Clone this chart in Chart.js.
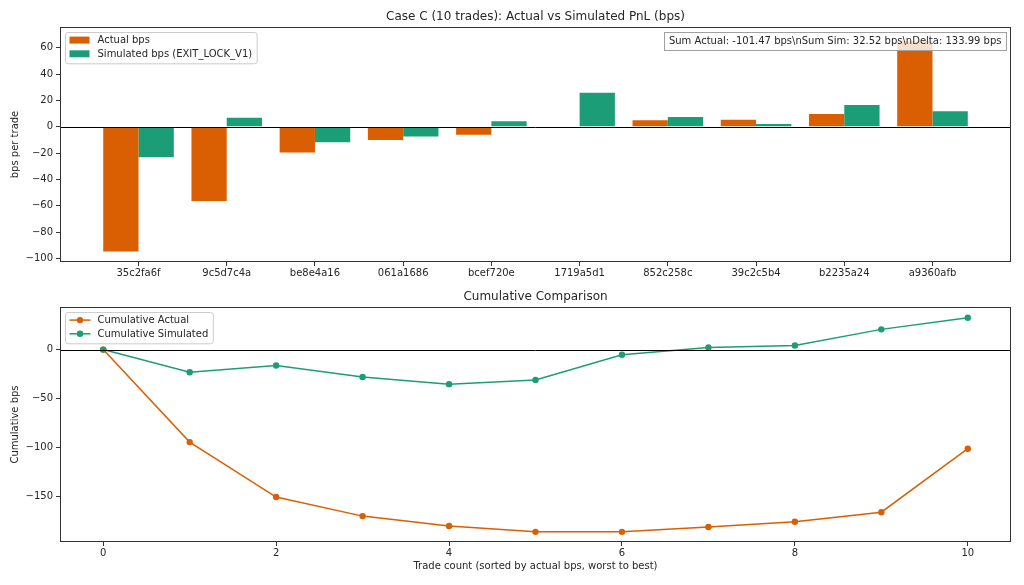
<!DOCTYPE html>
<html><head><meta charset="utf-8">
<script src="https://cdn.jsdelivr.net/npm/chart.js@4.4.1/dist/chart.umd.min.js"></script>
<style>
html,body{margin:0;padding:0;background:#fff;width:1024px;height:585px;overflow:hidden}
.box{position:absolute;left:0;width:1024px}
#w1{top:0;height:290px}
#w2{top:290px;height:295px}
</style></head><body>
<div class="box" id="w1"><canvas id="c1"></canvas></div>
<div class="box" id="w2"><canvas id="c2"></canvas></div>
<script>
// ---- data ----
const tradeIds = ['35c2fa6f','9c5d7c4a','be8e4a16','061a1686','bcef720e','1719a5d1','852c258c','39c2c5b4','b2235a24','a9360afb'];
const actualBps = [-94.7,-56.3,-19.5,-10.1,-6.0,0,5.0,5.3,9.8,65.03];
const simulatedBps = [-23.2,6.9,-11.7,-7.4,4.3,25.8,7.4,2.1,16.5,11.82];
const tradeCount = [0,1,2,3,4,5,6,7,8,9,10];
const cumActual = [0,-94.7,-151.0,-170.5,-180.6,-186.6,-186.6,-181.6,-176.3,-166.5,-101.47];
const cumSimulated = [0,-23.2,-16.3,-28.0,-35.4,-31.1,-5.3,2.1,4.2,20.7,32.52];
const barYTicks = [-100,-80,-60,-40,-20,0,20,40,60];
const cumYTicks = [-150,-100,-50,0];
const cumXTicks = [0,2,4,6,8,10];
const summaryText = 'Sum Actual: -101.47 bps\\nSum Sim: 32.52 bps\\nDelta: 133.99 bps';

const FONT = 'DejaVu Sans';
const TXT = '#262626';
const ORANGE = '#d95f02';
const GREEN = '#1b9e77';
const fmt = v => v < 0 ? '\u2212' + Math.abs(v) : String(v);

function rrect(ctx, x, y, w, h, r) {
  ctx.beginPath();
  ctx.moveTo(x + r, y);
  ctx.lineTo(x + w - r, y); ctx.arcTo(x + w, y, x + w, y + r, r);
  ctx.lineTo(x + w, y + h - r); ctx.arcTo(x + w, y + h, x + w - r, y + h, r);
  ctx.lineTo(x + r, y + h); ctx.arcTo(x, y + h, x, y + h - r, r);
  ctx.lineTo(x, y + r); ctx.arcTo(x, y, x + r, y, r);
  ctx.closePath();
}

const deco = {
  id: 'deco',
  afterDatasetsDraw(chart, args, o) {
    const {ctx, chartArea: a, scales} = chart;
    const y0 = Math.round(scales.y.getPixelForValue(0)) + 0.5;
    ctx.save();
    ctx.strokeStyle = '#000'; ctx.lineWidth = 1;
    ctx.beginPath(); ctx.moveTo(a.left, y0); ctx.lineTo(a.right, y0); ctx.stroke();
    ctx.restore();
  },
  afterDraw(chart, args, o) {
    const {ctx, chartArea: a} = chart;
    ctx.save();
    // frame
    ctx.strokeStyle = '#333'; ctx.lineWidth = 1;
    const L = Math.round(a.left) + 0.5, T = Math.round(a.top) + 0.5;
    const R = Math.round(a.right) - 0.5, B = Math.round(a.bottom) - 0.5;
    ctx.strokeRect(L, T, R - L, B - T);
    // title
    ctx.fillStyle = TXT;
    ctx.font = `12px "${FONT}"`;
    ctx.textAlign = 'center'; ctx.textBaseline = 'middle';
    ctx.fillText(o.title, (a.left + a.right) / 2, a.top - 10.5);
    // legend
    ctx.font = `10px "${FONT}"`;
    ctx.textAlign = 'left';
    const ds = chart.data.datasets;
    const tw = Math.max(...ds.map(d => ctx.measureText(d.label).width));
    const lx = a.left + 5.5, ly = a.top + 5.5;
    const lw = 32 + tw + 5, lh = 7.6 + 13.7 * (ds.length - 1) + 10;
    rrect(ctx, lx, ly, lw, lh, 2.5);
    ctx.fillStyle = 'rgba(255,255,255,0.8)'; ctx.fill();
    ctx.strokeStyle = '#cccccc'; ctx.lineWidth = 1; ctx.stroke();
    ds.forEach((d, i) => {
      const cy = ly + 7.6 + 13.7 * i;
      const col = d.borderColor && o.legend === 'line' ? d.borderColor : d.backgroundColor;
      if (o.legend === 'patch') {
        ctx.fillStyle = col;
        ctx.fillRect(lx + 4, cy - 3.5, 20, 7);
      } else {
        ctx.strokeStyle = col; ctx.lineWidth = 1.5;
        ctx.beginPath(); ctx.moveTo(lx + 4, cy); ctx.lineTo(lx + 25, cy); ctx.stroke();
        ctx.fillStyle = col;
        ctx.beginPath(); ctx.arc(lx + 14.5, cy, 3.2, 0, Math.PI * 2); ctx.fill();
      }
      ctx.fillStyle = TXT;
      ctx.fillText(d.label, lx + 32, cy + 0.5);
    });
    // note box
    if (o.note) {
      const nw = ctx.measureText(o.note).width;
      const bx = a.right - 5 - (nw + 9), by = a.top + 5.3, bh = 17.7;
      ctx.fillStyle = 'rgba(255,255,255,0.8)';
      ctx.fillRect(bx, by, nw + 9, bh);
      ctx.strokeStyle = '#a0a0a0'; ctx.lineWidth = 1;
      ctx.strokeRect(Math.round(bx) + 0.5, Math.round(by) + 0.5, Math.round(nw + 9), Math.round(bh));
      ctx.fillStyle = TXT;
      ctx.fillText(o.note, bx + 4.5, by + bh / 2 + 0.5);
    }
    ctx.restore();
  }
};

const tickFont = {family: FONT, size: 10};

new Chart(document.getElementById('c1'), {
  type: 'bar',
  data: {
    datasets: [
      {label: 'Actual bps', data: tradeIds.map((id, i) => ({x: i, y: actualBps[i]})),
       backgroundColor: ORANGE, borderWidth: 0, categoryPercentage: 0.8, barPercentage: 1.0},
      {label: 'Simulated bps (EXIT_LOCK_V1)', data: tradeIds.map((id, i) => ({x: i, y: simulatedBps[i]})),
       backgroundColor: GREEN, borderWidth: 0, categoryPercentage: 0.8, barPercentage: 1.0}
    ]
  },
  options: {
    responsive: true, maintainAspectRatio: false, animation: false,
    layout: {padding: {top: 27, right: 13, left: 0, bottom: 0}},
    plugins: {
      legend: {display: false}, tooltip: {enabled: false},
      deco: {title: 'Case C (10 trades): Actual vs Simulated PnL (bps)', legend: 'patch', note: summaryText}
    },
    scales: {
      x: {
        type: 'linear', min: -0.89, max: 9.89, offset: false,
        afterBuildTicks: s => { s.ticks = tradeIds.map((_, i) => ({value: i})); },
        afterFit: s => { s.height = 28; },
        ticks: {callback: v => tradeIds[v], font: tickFont, color: TXT, padding: 1.3, maxRotation: 0, autoSkip: false},
        grid: {drawOnChartArea: false, offset: false, tickLength: 4, tickColor: '#333'},
        border: {display: false}
      },
      y: {
        min: -102.7, max: 75.8,
        afterBuildTicks: s => { s.ticks = barYTicks.map(v => ({value: v})); },
        afterFit: s => { s.width = 60; },
        ticks: {callback: fmt, font: tickFont, color: TXT, padding: 3},
        grid: {drawOnChartArea: false, tickLength: 4, tickColor: '#333'},
        border: {display: false},
        title: {display: true, text: 'bps per trade', font: tickFont, color: TXT, padding: {top: 9, bottom: 0}}
      }
    }
  },
  plugins: [deco]
});

new Chart(document.getElementById('c2'), {
  type: 'line',
  data: {
    datasets: [
      {label: 'Cumulative Actual', data: tradeCount.map((t, i) => ({x: t, y: cumActual[i]})),
       borderColor: ORANGE, backgroundColor: ORANGE, pointBackgroundColor: ORANGE, borderWidth: 1.5,
       pointRadius: 3.2, pointBorderWidth: 0, tension: 0, order: 1},
      {label: 'Cumulative Simulated', data: tradeCount.map((t, i) => ({x: t, y: cumSimulated[i]})),
       borderColor: GREEN, backgroundColor: GREEN, pointBackgroundColor: GREEN, borderWidth: 1.5,
       pointRadius: 3.2, pointBorderWidth: 0, tension: 0, order: 0}
    ]
  },
  options: {
    responsive: true, maintainAspectRatio: false, animation: false,
    layout: {padding: {top: 17, right: 13, left: 0, bottom: 0}},
    plugins: {
      legend: {display: false}, tooltip: {enabled: false},
      deco: {title: 'Cumulative Comparison', legend: 'line'}
    },
    scales: {
      x: {
        type: 'linear', min: -0.5, max: 10.5,
        afterBuildTicks: s => { s.ticks = cumXTicks.map(v => ({value: v})); },
        afterFit: s => { s.height = 43; },
        ticks: {callback: v => String(v), font: tickFont, color: TXT, padding: 1.3, maxRotation: 0, autoSkip: false},
        grid: {drawOnChartArea: false, tickLength: 4, tickColor: '#333'},
        border: {display: false},
        title: {display: true, text: 'Trade count (sorted by actual bps, worst to best)', font: tickFont, color: TXT, padding: {top: 0, bottom: 12.3}}
      },
      y: {
        min: -197, max: 43.6,
        afterBuildTicks: s => { s.ticks = cumYTicks.map(v => ({value: v})); },
        afterFit: s => { s.width = 60; },
        ticks: {callback: fmt, font: tickFont, color: TXT, padding: 3},
        grid: {drawOnChartArea: false, tickLength: 4, tickColor: '#333'},
        border: {display: false},
        title: {display: true, text: 'Cumulative bps', font: tickFont, color: TXT, padding: {top: 9, bottom: 0}}
      }
    }
  },
  plugins: [deco]
});
</script>
</body></html>
